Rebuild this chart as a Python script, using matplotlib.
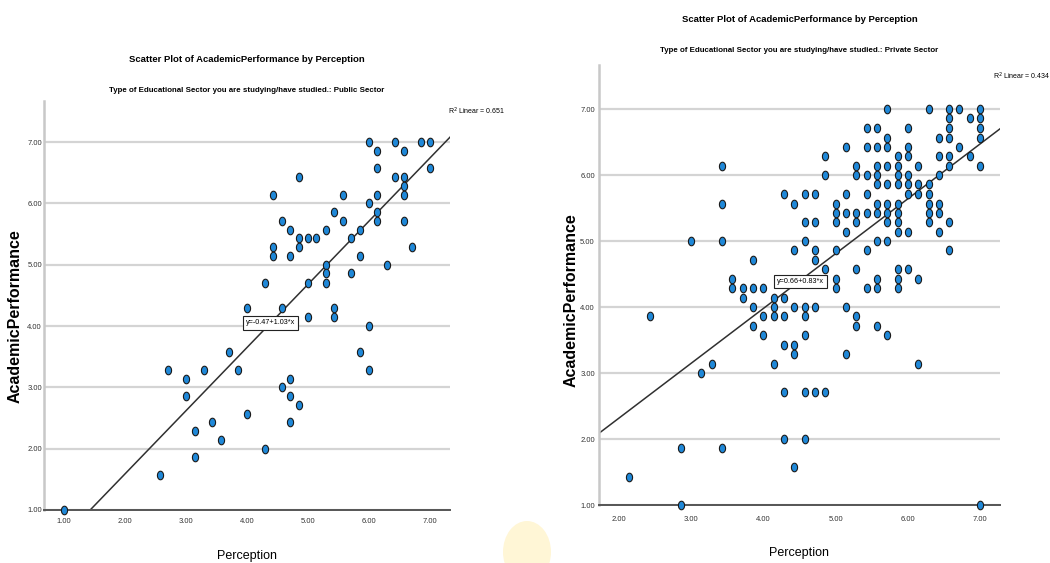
import matplotlib
matplotlib.use('Agg')
import matplotlib.pyplot as plt
import numpy as np
from matplotlib.path import Path
from matplotlib.patches import Ellipse

# ---- data ----
title = 'Scatter Plot of AcademicPerformance by Perception'
sub_public = 'Type of Educational Sector you are studying/have studied.: Public Sector'
sub_private = 'Type of Educational Sector you are studying/have studied.: Private Sector'

pub_x = [6.00, 6.14, 6.43, 6.57, 6.86, 7.00, 7.00, 6.14, 4.86, 6.43, 6.57, 6.57,
         4.43, 5.57, 6.14, 6.57, 6.00, 5.43, 6.14, 4.57, 5.57, 6.14, 6.57, 4.71,
         5.29, 5.86, 4.86, 5.00, 5.14, 5.71, 4.43, 4.86, 6.71, 4.43, 4.71, 5.86,
         5.29, 6.29, 5.29, 5.71, 4.29, 5.00, 5.29, 4.00, 4.57, 5.43, 5.00, 5.43,
         6.00, 5.86, 6.00, 3.71, 2.71, 3.29, 3.86, 3.00, 3.00, 4.57, 4.71, 4.71,
         4.86, 4.00, 3.43, 4.71, 3.14, 3.57, 4.29, 3.14, 2.57, 1.00]
pub_y = [7.00, 6.86, 7.00, 6.86, 7.00, 7.00, 6.57, 6.57, 6.43, 6.43, 6.43, 6.29,
         6.14, 6.14, 6.14, 6.14, 6.00, 5.86, 5.86, 5.71, 5.71, 5.71, 5.71, 5.57,
         5.57, 5.57, 5.43, 5.43, 5.43, 5.43, 5.29, 5.29, 5.29, 5.14, 5.14, 5.14,
         5.00, 5.00, 4.86, 4.86, 4.71, 4.71, 4.71, 4.29, 4.29, 4.29, 4.14, 4.14,
         4.00, 3.57, 3.29, 3.57, 3.29, 3.29, 3.29, 3.14, 2.86, 3.00, 3.14, 2.86,
         2.71, 2.57, 2.43, 2.43, 2.29, 2.14, 2.00, 1.86, 1.57, 1.00]

priv_x = [5.71, 6.29, 6.57, 6.71, 7.00,
          6.57, 6.86, 7.00,
          5.43, 5.57, 6.00, 6.57, 7.00,
          5.71, 6.43, 6.57, 7.00,
          5.14, 5.43, 5.57, 5.71, 6.00, 6.71,
          4.86, 5.86, 6.00, 6.43, 6.57, 6.86,
          3.43, 5.29, 5.57, 5.71, 5.86, 6.14, 6.57, 7.00,
          4.86, 5.29, 5.43, 5.57, 5.86, 6.00, 6.43,
          5.57, 5.71, 5.86, 6.00, 6.14, 6.29,
          4.29, 4.57, 4.71, 5.14, 5.43, 6.00, 6.14, 6.29,
          3.43, 4.43, 5.00, 5.57, 5.71, 5.86, 6.29, 6.43,
          5.00, 5.14, 5.29, 5.43, 5.57, 5.71, 5.86, 6.29, 6.43,
          4.57, 4.71, 5.00, 5.29, 5.71, 5.86, 6.29, 6.57,
          5.14, 5.86, 6.00, 6.43,
          3.00, 3.43, 4.57, 5.57, 5.71,
          4.43, 4.71, 5.00, 5.43, 6.57,
          3.86, 4.71,
          4.86, 5.29, 5.86, 6.00,
          3.57, 5.00, 5.57, 5.86, 6.14,
          3.57, 3.71, 3.86, 4.00, 5.00, 5.43, 5.57, 5.86,
          3.71, 4.14, 4.29,
          3.86, 4.14, 4.43, 4.57, 4.71, 5.14,
          2.43, 4.00, 4.14, 4.29, 4.57, 5.29,
          3.86, 5.29, 5.57,
          4.00, 4.57, 5.71,
          4.29, 4.43,
          4.43, 5.14,
          3.29, 4.14, 6.14,
          3.14,
          4.29, 4.57, 4.71, 4.86,
          4.29, 4.57,
          2.86, 3.43,
          4.43,
          2.14,
          2.86, 7.00]
priv_y = ([7.00] * 5 + [6.86] * 3 + [6.71] * 5 + [6.57] * 4 + [6.43] * 6 +
          [6.29] * 6 + [6.14] * 8 + [6.00] * 7 + [5.86] * 6 + [5.71] * 8 +
          [5.57] * 8 + [5.43] * 9 + [5.29] * 8 + [5.14] * 4 + [5.00] * 5 +
          [4.86] * 5 + [4.71] * 2 + [4.57] * 4 + [4.43] * 5 + [4.29] * 8 +
          [4.14] * 3 + [4.00] * 6 + [3.86] * 6 + [3.71] * 3 + [3.57] * 3 +
          [3.43] * 2 + [3.29] * 2 + [3.14] * 3 + [3.00] * 1 + [2.71] * 4 +
          [2.00] * 2 + [1.86] * 2 + [1.57] * 1 + [1.43] * 1 + [1.00] * 2)

fit_public = (-0.47, 1.03)
fit_private = (0.66, 0.83)
r2_public = 0.651
r2_private = 0.434
yticks = [1.0, 2.0, 3.0, 4.0, 5.0, 6.0, 7.0]
xticks_public = [1.0, 2.0, 3.0, 4.0, 5.0, 6.0, 7.0]
xticks_private = [2.0, 3.0, 4.0, 5.0, 6.0, 7.0]

W, H = 1050, 563
plt.rcParams['font.family'] = ['Liberation Sans', 'DejaVu Sans']

# slightly tall elliptical marker like the stretched SPSS dots
t = np.linspace(0, 2 * np.pi, 40)
dot = Path(np.column_stack([0.72 * np.cos(t), np.sin(t)]), closed=True)


def fx(px):
    return px / W


def fy(py):
    return 1 - py / H


def draw_panel(fig, box, xs, ys, xticks, xlim, ylim, fit, eq_pos, r2, r2_xy,
               subtitle, title_y, sub_y, xlabel_y, ylabel_xy, xpad, ypad):
    l, t_, r, b = box
    ax = fig.add_axes([fx(l), fy(b), (r - l) / W, (b - t_) / H])
    ax.set_xticks(xticks)
    ax.set_yticks(yticks)
    ax.set_xticklabels([f'{v:.2f}' for v in xticks])
    ax.set_yticklabels([f'{v:.2f}' for v in yticks])
    ax.set_xlim(*xlim)
    ax.set_ylim(*ylim)
    ax.tick_params(length=0, labelsize=5.5, colors='#333333')
    ax.tick_params(axis='x', pad=xpad)
    ax.tick_params(axis='y', pad=ypad)
    ax.grid(axis='y', color='#d4d4d4', linewidth=1.6)
    ax.set_axisbelow(True)
    for s in ['top', 'right']:
        ax.spines[s].set_visible(False)
    ax.spines['left'].set_color('#c8c8c8')
    ax.spines['left'].set_linewidth(1.8)
    ax.spines['bottom'].set_color('#555555')
    ax.spines['bottom'].set_linewidth(1.4)

    xx = np.array(xlim)
    ax.plot(xx, fit[0] + fit[1] * xx, color='#303030', linewidth=1.1, zorder=2)
    ax.scatter(xs, ys, marker=dot, s=38, facecolor='#1f88d8',
               edgecolor='#1a1a1a', linewidth=0.8, zorder=3, clip_on=False)

    ax.text(eq_pos[0], eq_pos[1], f'y={fit[0]:.2f}+{fit[1]:.2f}*x', fontsize=5.2,
            ha='left', va='center', zorder=5,
            bbox=dict(boxstyle='square,pad=0.45', facecolor='white',
                      edgecolor='#222222', linewidth=0.8))

    cx = (l + r) / 2
    fig.text(fx(r2_xy[0]), fy(r2_xy[1]), f'R$^2$ Linear = {r2:.3f}',
             fontsize=5, ha='left', va='center')
    fig.text(fx(cx), fy(title_y), title, fontsize=6.8, fontweight='bold',
             ha='center', va='center')
    fig.text(fx(cx), fy(sub_y), subtitle, fontsize=5.7,
             fontweight='bold', ha='center', va='center')
    fig.text(fx(cx), fy(xlabel_y), 'Perception', fontsize=9,
             ha='center', va='center')
    fig.text(fx(ylabel_xy[0]), fy(ylabel_xy[1]), 'AcademicPerformance',
             fontsize=11.5, fontweight='bold', rotation=90, ha='center',
             va='center')
    return ax


fig = plt.figure(figsize=(W / 100, H / 100), dpi=100)
fig.patch.set_facecolor('white')

draw_panel(fig, (44, 101, 450, 510), pub_x, pub_y, xticks_public,
           (0.67, 7.33), (1.0, 7.67), fit_public, (3.98, 4.05), r2_public,
           (448, 111), sub_public, title_y=59, sub_y=90, xlabel_y=556,
           ylabel_xy=(15, 316), xpad=5.5, ypad=1.5)

draw_panel(fig, (599, 65, 1000, 505), priv_x, priv_y, xticks_private,
           (1.72, 7.28), (1.0, 7.67), fit_private, (4.19, 4.39), r2_private,
           (993, 76), sub_private, title_y=20, sub_y=50, xlabel_y=553,
           ylabel_xy=(571, 300), xpad=8, ypad=3)

# faint yellow smudge between the two panels
blob = Ellipse((fx(527), fy(552)), 48 / W, 62 / H, transform=fig.transFigure,
               facecolor='#fff6d6', edgecolor='none', zorder=0)
fig.patches.append(blob)

fig.savefig('out.png', dpi=100, facecolor='white')
plt.close(fig)
